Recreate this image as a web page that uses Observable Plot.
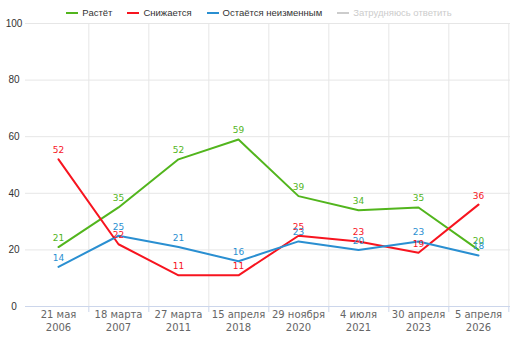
<!DOCTYPE html>
<html>
<head>
<meta charset="utf-8">
<script src="https://cdn.jsdelivr.net/npm/d3@7"></script>
<script src="https://cdn.jsdelivr.net/npm/@observablehq/plot@0.6"></script>
<style>
  body { margin: 0; background: #fff; }
  #legend { height: 20px; box-sizing: border-box; padding-top: 6px; display: flex; justify-content: center; gap: 15px;
    font: 9.5px "Liberation Sans", Arial, sans-serif; color: #333; line-height: 14px; }
  .item { display: flex; align-items: center; }
  .sw { width: 12px; height: 2px; margin-right: 4px; }
  svg { overflow: visible; }
</style>
</head>
<body>
<div id="legend"></div>
<div id="chart"></div>
<script>
const dayLabels = ["21 мая", "18 марта", "27 марта", "15 апреля", "29 ноября", "4 июля", "30 апреля", "5 апреля"];
const yearLabels = ["2006", "2007", "2011", "2018", "2020", "2021", "2023", "2026"];
const seriesNames = ["Растёт", "Снижается", "Остаётся неизменным", "Затрудняюсь ответить"];
const seriesColors = ["#52b51d", "#f7141f", "#2a8fd1", "#cccccc"];
const grows = [21, 35, 52, 59, 39, 34, 35, 20];
const falls = [52, 22, 11, 11, 25, 23, 19, 36];
const same = [14, 25, 21, 16, 23, 20, 23, 18];
const yTicks = [0, 20, 40, 60, 80, 100];

const categories = dayLabels.map((d, i) => d + "\n" + yearLabels[i]);
const visible = [grows, falls, same];
const rows = visible.flatMap((vals, s) => vals.map((v, i) => ({cat: categories[i], value: v, series: seriesNames[s]})));

// legend
const legend = document.getElementById("legend");
seriesNames.forEach((name, i) => {
  const it = document.createElement("div");
  it.className = "item";
  const sw = document.createElement("span");
  sw.className = "sw";
  sw.style.background = seriesColors[i];
  const tx = document.createElement("span");
  tx.textContent = name;
  if (i === 3) tx.style.color = "#cccccc";
  it.append(sw, tx);
  legend.append(it);
});

const W = 518, H = 318, mL = 25, mR = 8, mT = 3, mB = 32;
const bw = (W - mL - mR) / categories.length;
const colorDomain = seriesNames.slice(0, 3);
const colorRange = seriesColors.slice(0, 3);

const chart = Plot.plot({
  width: W, height: H,
  marginLeft: mL, marginRight: mR, marginTop: mT, marginBottom: mB,
  x: {type: "band", domain: categories, padding: 0, label: null},
  y: {domain: [0, 100], label: null},
  color: {domain: colorDomain, range: colorRange},
  style: {background: "#fff", overflow: "visible"},
  marks: [
    Plot.gridY(yTicks.filter(t => t > 0), {stroke: "#e6e6e6", strokeOpacity: 1}),
    Plot.ruleX(categories, {x: d => d, dx: bw / 2, stroke: "#e6e6e6", strokeOpacity: 1}),
    Plot.ruleY([0], {stroke: "#ccd6eb"}),
    Plot.ruleX(categories, {x: d => d, dx: bw / 2, y1: 0, y2: 0, insetBottom: -6, stroke: "#ccd6eb"}),
    Plot.axisY({ticks: yTicks, tickSize: 0, tickPadding: 11.5, textAnchor: "middle", fontSize: 10,
      fontFamily: "Liberation Sans, Arial, sans-serif", fill: "#333", label: null}),
    Plot.axisX({tickSize: 0, tickPadding: 3, fontSize: 10, fontFamily: "DejaVu Sans, sans-serif", fill: "#666", lineHeight: 1.25, label: null}),
    Plot.line(rows, {x: "cat", y: "value", z: "series", stroke: "series", strokeWidth: 2}),
    Plot.text(rows, {x: "cat", y: "value", text: "value", fill: "series", dy: -9, fontSize: 9,
      fontFamily: "DejaVu Sans, sans-serif"})
  ]
});
document.getElementById("chart").append(chart);
</script>
</body>
</html>
